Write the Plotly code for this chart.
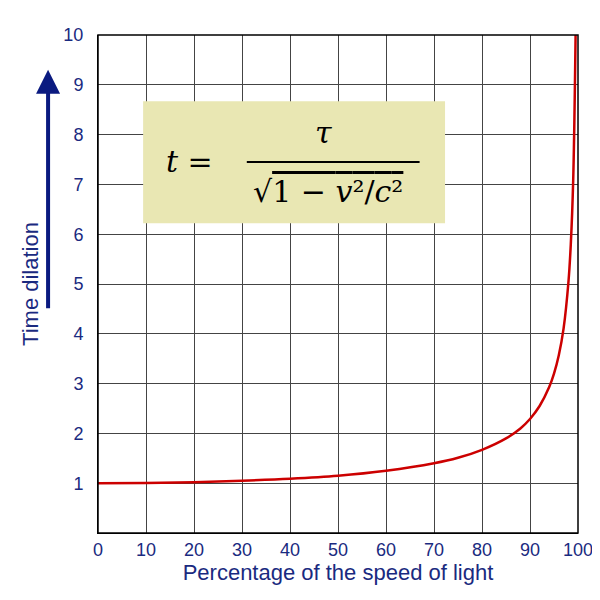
import plotly.graph_objects as go

# speed as % of c, and time dilation factor
speed = [0, 10, 20, 30, 40, 50, 60, 70, 75, 80, 85, 88, 90, 92, 94, 95, 96, 97, 98, 98.5, 99, 99.5]
dilation = [1.0, 1.005, 1.02, 1.05, 1.09, 1.15, 1.25, 1.4, 1.51, 1.67, 1.9, 2.1, 2.29, 2.55,
            2.93, 3.2, 3.57, 4.11, 5.03, 5.8, 7.09, 10.0]
x_ticks = list(range(0, 101, 10))
y_ticks = list(range(1, 11))

blue = "#1a2a80"
fig = go.Figure()
fig.add_trace(go.Scatter(x=speed, y=dilation, mode="lines",
                         line=dict(color="#cc0000", width=2.5, shape="spline")))

# formula box
fig.add_shape(type="rect", x0=9.4, x1=72.3, y0=6.22, y1=8.67,
              fillcolor="#e9e7b3", line_width=0, layer="above")
serif = dict(family="DejaVu Serif", size=30, color="black")
fig.add_annotation(x=19, y=7.45, text="<i>t</i> =", showarrow=False, font=serif)
fig.add_annotation(x=47, y=8.05, text="<i>τ</i>", showarrow=False, font=serif)
fig.add_shape(type="line", x0=31, x1=67, y0=7.45, y1=7.45, line=dict(color="black", width=2))
fig.add_annotation(x=48, y=6.85, text="√<span style='text-decoration:overline'>1 − <i>v</i>²/<i>c</i>²</span>",
                   showarrow=False, font=serif)

# big arrow on the left
fig.add_annotation(xref="paper", yref="paper", x=-0.104, y=0.93, ax=0, ay=240,
                   text="", showarrow=True, arrowhead=2, arrowsize=1.2, arrowwidth=4,
                   arrowcolor="#0a1a80")

fig.update_layout(
    width=600, height=600, showlegend=False,
    margin=dict(l=90, r=30, t=27, b=75),
    plot_bgcolor="white", paper_bgcolor="white",
    font=dict(family="Liberation Sans", size=18, color=blue),
    xaxis=dict(range=[0, 100], tickvals=x_ticks, showgrid=True, gridcolor="#444",
               gridwidth=1, showline=True, linecolor="black", zeroline=False,
               automargin=False,
               title=dict(text="Percentage of the speed of light", standoff=6)),
    yaxis=dict(range=[0, 10], tickvals=y_ticks, showgrid=True, gridcolor="#444",
               gridwidth=1, showline=True, linecolor="black", zeroline=False,
               ticklabelstandoff=10, automargin=False,
               title=dict(text="Time dilation", standoff=18)),
)
fig.add_shape(type="rect", xref="paper", yref="paper", x0=0, x1=1, y0=0, y1=1,
              line=dict(color="black", width=1.5))
fig.write_html("out.html")
